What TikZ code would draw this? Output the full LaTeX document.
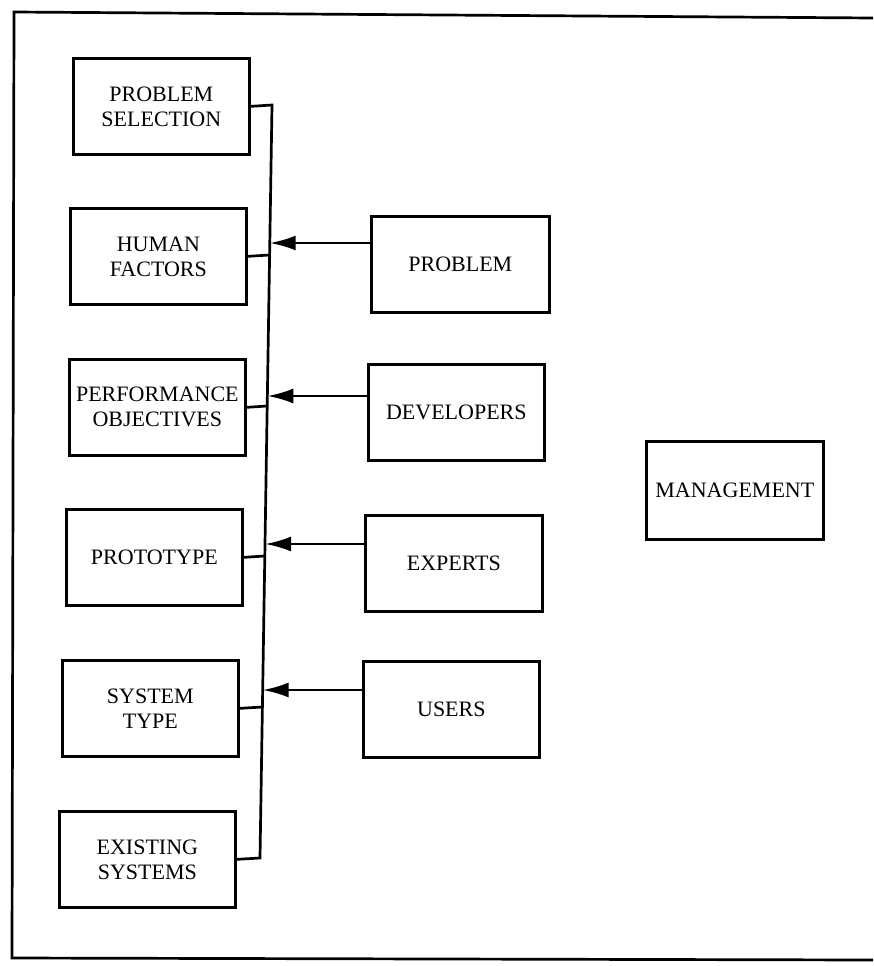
\documentclass[tikz,border=0pt]{standalone}
\usepackage{fontspec}
\setmainfont{Liberation Serif}
\usetikzlibrary{arrows.meta}
\begin{document}
\begin{tikzpicture}[x=1pt,y=-1pt,
  box/.style={draw,line width=2.7pt,rectangle,anchor=north west,inner sep=0pt,
    minimum width=176pt,minimum height=96pt,align=center,font=\fontsize{22}{25}\selectfont},
  conn/.style={line width=2.7pt},
  arr/.style={line width=2.7pt,-{Latex[length=26pt,width=15pt]}}]
\useasboundingbox (0,0) rectangle (873,966);
\draw[line width=2.7pt] (873,18) -- (14,12) -- (12,958) -- (873,960);
% left column
\node[box] (ps) at (72,57) {PROBLEM\\SELECTION};
\node[box] (hf) at (69,207) {HUMAN\\FACTORS};
\node[box] (po) at (68,358) {PERFORMANCE\\OBJECTIVES};
\node[box] (pt) at (65,508) {PROTOTYPE};
\node[box] (st) at (61,659) {SYSTEM\\TYPE};
\node[box] (es) at (58,810) {EXISTING\\SYSTEMS};
% right column
\node[box,minimum width=178pt] (pr) at (370,215) {PROBLEM};
\node[box] (dv) at (367,363) {DEVELOPERS};
\node[box,minimum width=177pt] (ex) at (364,514) {EXPERTS};
\node[box] (us) at (362,660) {USERS};
\node[box,minimum width=177pt,minimum height=98pt] (mg) at (645,440) {MANAGEMENT};
% bus
\coordinate (b0) at (272,105);
\coordinate (b1) at (269.4,255);
\coordinate (b2) at (267,406);
\coordinate (b3) at (264.6,556);
\coordinate (b4) at (262.4,707);
\coordinate (b5) at (260,858);
\draw[conn] (ps.east) -- (b0) -- (b5) -- (es.east);
\draw[conn] (hf.east) -- (b1);
\draw[conn] (po.east) -- (b2);
\draw[conn] (pt.east) -- (b3);
\draw[conn] (st.east) -- (b4);
% arrow targets on bus
\coordinate (a1) at (269.7,243);
\coordinate (a2) at (267.3,396);
\coordinate (a3) at (265,544);
\coordinate (a4) at (262.6,690);
\draw[arr] (a1 -| pr.west) -- (a1);
\draw[arr] (a2 -| dv.west) -- (a2);
\draw[arr] (a3 -| ex.west) -- (a3);
\draw[arr] (a4 -| us.west) -- (a4);
\end{tikzpicture}
\end{document}
